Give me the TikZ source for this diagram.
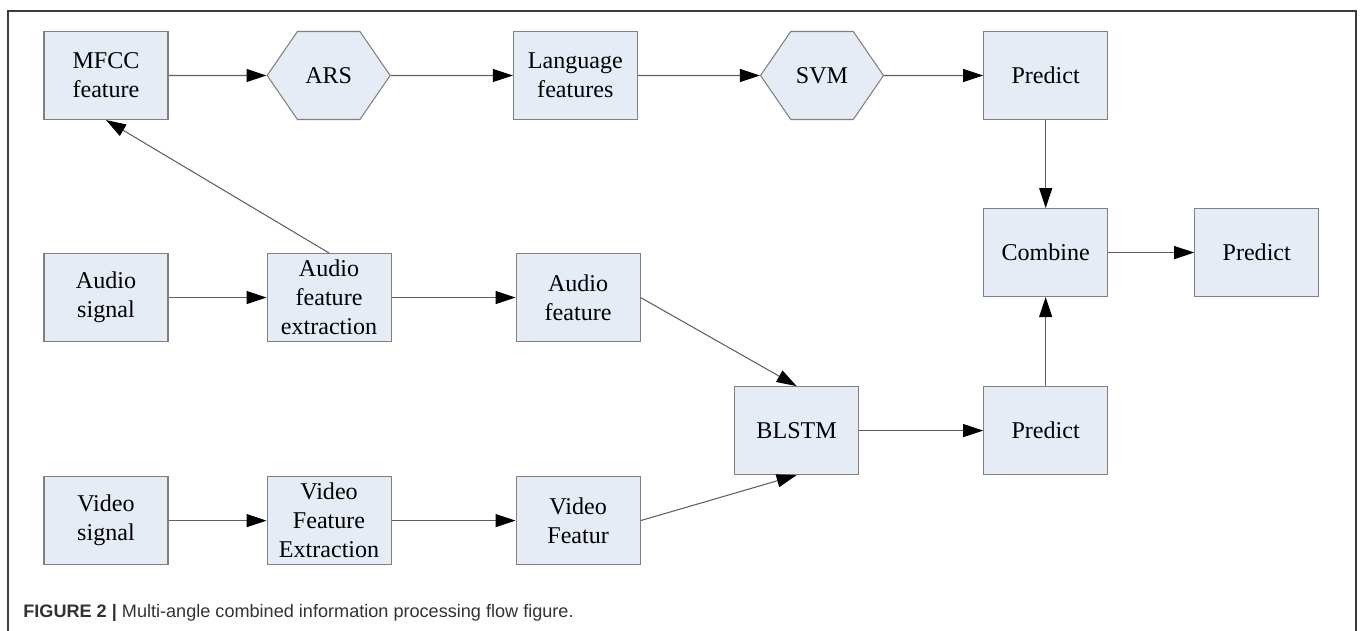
\documentclass[tikz,border=0pt]{standalone}
\usepackage{fontspec}
\setmainfont{Liberation Serif}
\newfontfamily\capfont{Liberation Sans}
\usepackage{tikz}
\usetikzlibrary{positioning}
\usetikzlibrary{shapes.symbols}
\usetikzlibrary{arrows.meta}
\definecolor{boxfill}{RGB}{230,236,246}
\definecolor{boxline}{RGB}{128,128,128}
\definecolor{arrowline}{RGB}{96,96,96}
\definecolor{framecol}{RGB}{60,60,60}
\definecolor{captext}{RGB}{50,50,50}

\begin{document}
\begin{tikzpicture}
			[
				myblock/.style = {draw = boxline, fill = boxfill, rectangle, line width = 0.6pt, minimum height = 1.76cm, minimum width = 2.48cm, inner sep = 1pt, align = center, font = \fontsize{13.7}{16.5}\selectfont},
				myhex/.style = {myblock, signal, signal to = east and west, signal pointer angle = 111, minimum width = 2.46cm},
				myarrow/.style = {draw = arrowline, line width = 0.6pt, -{Triangle[length = 0.4cm, width = 0.26cm, color = black]}}
			]
			\useasboundingbox (0,0) rectangle (27.2,-12.62);
			\draw [framecol, line width = 1pt] (0.16,-12.62) -- (0.16,-0.22) -- (27.12,-0.22) -- (27.12,-12.62);
			%
			\node (mfcc) [myblock] at (2.12,-1.51) {MFCC\\feature};
			\node (ars) [myhex, right = 1.96cm of mfcc] {ARS};
			\node (language) [myblock, right = 2.44cm of ars] {Language\\features};
			\node (svm) [myhex, right = 2.44cm of language] {SVM};
			\node (predicttop) [myblock, right = 1.98cm of svm] {Predict};
			%
			\node (combine) [myblock, below = 1.76cm of predicttop] {Combine};
			\node (predictout) [myblock, right = 1.72cm of combine] {Predict};
			\node (predictmid) [myblock, below = 1.78cm of combine] {Predict};
			\node (blstm) [myblock, left = 2.48cm of predictmid] {BLSTM};
			%
			\node (audiosignal) [myblock, below = 2.66cm of mfcc] {Audio\\signal};
			\node (audioextract) [myblock, right = 1.96cm of audiosignal] {Audio\\feature\\extraction};
			\node (audiofeature) [myblock, right = 2.48cm of audioextract] {Audio\\feature};
			%
			\node (videosignal) [myblock, below = 2.68cm of audiosignal] {Video\\signal};
			\node (videoextract) [myblock, right = 1.96cm of videosignal] {Video\\Feature\\Extraction};
			\node (videofeature) [myblock, right = 2.48cm of videoextract] {Video\\Featur};
			%
			\draw [myarrow] (mfcc) -- (ars);
			\draw [myarrow] (ars) -- (language);
			\draw [myarrow] (language) -- (svm);
			\draw [myarrow] (svm) -- (predicttop);
			\draw [myarrow] (predicttop) -- (combine);
			\draw [myarrow] (combine) -- (predictout);
			%
			\draw [myarrow] (audiosignal) -- (audioextract);
			\draw [myarrow] (audioextract.north) -- (mfcc.south);
			\draw [myarrow] (audioextract) -- (audiofeature);
			\draw [myarrow] (audiofeature.east) -- (blstm.north);
			%
			\draw [myarrow] (videosignal) -- (videoextract);
			\draw [myarrow] (videoextract) -- (videofeature);
			\draw [myarrow] (videofeature.east) -- (blstm.south);
			%
			\draw [myarrow] (blstm) -- (predictmid);
			\draw [myarrow] (predictmid) -- (combine);
			%
			\node (caption) [anchor = base west, text = captext, inner sep = 0pt, font = \capfont\fontsize{10.3}{12}\selectfont] at (0.46,-12.34) {\textbf{FIGURE 2 |} Multi-angle combined information processing flow figure.};
			%
		\end{tikzpicture}
\end{document}
